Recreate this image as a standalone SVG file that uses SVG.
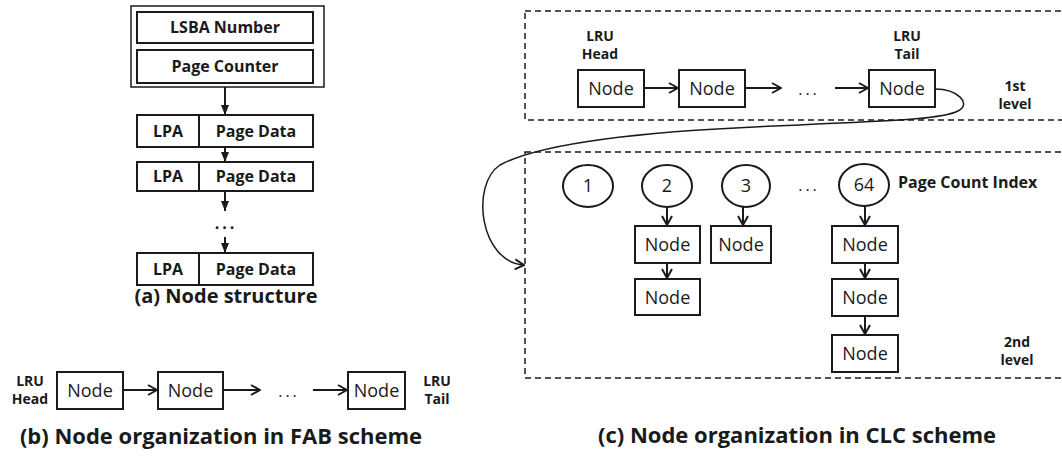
<svg xmlns="http://www.w3.org/2000/svg" width="1062" height="459" viewBox="0 0 1062 459">
<defs>
<style>
.bx{fill:#fff;stroke:#1a1a1a;stroke-width:2}
.ln{fill:none;stroke:#1a1a1a;stroke-width:2}
.dash{fill:none;stroke:#1a1a1a;stroke-width:1.5;stroke-dasharray:6 4}
.t{font-family:"Open Sans","Noto Sans",sans-serif;fill:#1a1a1a;text-anchor:middle}
.nd{font-size:18px}
.b{font-weight:bold}
.s{font-size:14px}
.cap{font-size:22px;font-weight:bold}
.dots{font-size:16px;letter-spacing:3px}
</style>
<marker id="chev" viewBox="0 0 12 12" refX="11" refY="6" markerWidth="12" markerHeight="12" markerUnits="userSpaceOnUse" orient="auto">
<path d="M2 1 L11 6 L2 11" fill="none" stroke="#1a1a1a" stroke-width="2"/>
</marker>
<marker id="tri" viewBox="0 0 10 10" refX="10" refY="5" markerWidth="10" markerHeight="10" markerUnits="userSpaceOnUse" orient="auto">
<path d="M0 1 L10 5 L0 9 Z" fill="#1a1a1a"/>
</marker>
</defs>

<!-- (a) Node structure -->
<g id="node-header">
<rect x="131" y="6" width="193" height="81" fill="#fff" stroke="#1a1a1a" stroke-width="1.5"/>
<rect class="bx" x="137" y="12" width="176" height="31"/>
<text class="t b" x="225" y="33" font-size="16">LSBA Number</text>
<rect class="bx" x="137" y="50" width="176" height="33"/>
<text class="t b" x="225" y="72" font-size="16">Page Counter</text>
</g>
<g id="row1">
<rect class="bx" x="137" y="115" width="176" height="32"/>
<line class="ln" x1="199" y1="115" x2="199" y2="147"/>
<text class="t b" x="168" y="137" font-size="16">LPA</text>
<text class="t b" x="256" y="137" font-size="16">Page Data</text>
</g>
<g id="row2">
<rect class="bx" x="137" y="162" width="176" height="29"/>
<line class="ln" x1="199" y1="162" x2="199" y2="191"/>
<text class="t b" x="168" y="182" font-size="16">LPA</text>
<text class="t b" x="256" y="182" font-size="16">Page Data</text>
</g>
<text class="t b dots" x="226" y="229">...</text>
<g id="row3">
<rect class="bx" x="137" y="253" width="176" height="32"/>
<line class="ln" x1="199" y1="253" x2="199" y2="285"/>
<text class="t b" x="168" y="275" font-size="16">LPA</text>
<text class="t b" x="256" y="275" font-size="16">Page Data</text>
</g>
<text class="t cap" x="226" y="303" style="font-size:20px">(a) Node structure</text>

<!-- (b) FAB -->
<g id="fab-head"><text class="t b s" x="30" y="386">LRU</text><text class="t b s" x="30" y="404">Head</text></g>
<g id="fab-n1"><rect class="bx" x="57" y="372" width="66" height="37"/><text class="t nd" x="90" y="397">Node</text></g>
<g id="fab-n2"><rect class="bx" x="158" y="372" width="65" height="37"/><text class="t nd" x="190.5" y="397">Node</text></g>
<text class="t dots" x="289" y="397">...</text>
<g id="fab-n3"><rect class="bx" x="348" y="372" width="57" height="37"/><text class="t nd" x="376.5" y="397">Node</text></g>
<g id="fab-tail"><text class="t b s" x="437" y="386">LRU</text><text class="t b s" x="437" y="404">Tail</text></g>
<text class="t cap" x="221" y="444">(b) Node organization in FAB scheme</text>

<!-- (c) CLC -->
<rect class="dash" x="525" y="11" width="560" height="109"/>
<rect class="dash" x="525" y="152" width="560" height="226"/>
<g id="l1-head"><text class="t b s" x="600" y="41">LRU</text><text class="t b s" x="600" y="59">Head</text></g>
<g id="l1-n1"><rect class="bx" x="578" y="70" width="66" height="37"/><text class="t nd" x="611" y="95">Node</text></g>
<g id="l1-n2"><rect class="bx" x="679" y="70" width="66" height="37"/><text class="t nd" x="712" y="95">Node</text></g>
<text class="t dots" x="809" y="95">...</text>
<g id="l1-tail"><text class="t b s" x="907" y="41">LRU</text><text class="t b s" x="907" y="59">Tail</text></g>
<g id="l1-n3"><rect class="bx" x="869" y="70" width="66" height="37"/><text class="t nd" x="902" y="95">Node</text></g>
<g id="l1-label"><text class="t b s" x="1015" y="91">1st</text><text class="t b s" x="1015" y="109">level</text></g>

<g id="c1"><ellipse class="bx" cx="588" cy="186" rx="25" ry="21"/><text class="t nd" x="588" y="192">1</text></g>
<g id="c2"><ellipse class="bx" cx="667" cy="186" rx="25" ry="21"/><text class="t nd" x="667" y="192">2</text></g>
<g id="c3"><ellipse class="bx" cx="746" cy="186" rx="24" ry="21"/><text class="t nd" x="746" y="192">3</text></g>
<text class="t dots" x="809" y="191">...</text>
<g id="c64"><ellipse class="bx" cx="864" cy="185" rx="25" ry="21"/><text class="t nd" x="864" y="191">64</text></g>
<text class="t b" x="898" y="188" font-size="16" style="text-anchor:start">Page Count Index</text>

<g id="l2-n2a"><rect class="bx" x="635" y="226" width="65" height="37"/><text class="t nd" x="667.5" y="251">Node</text></g>
<g id="l2-n2b"><rect class="bx" x="635" y="279" width="65" height="36"/><text class="t nd" x="667.5" y="304">Node</text></g>
<g id="l2-n3a"><rect class="bx" x="711" y="226" width="60" height="37"/><text class="t nd" x="741" y="251">Node</text></g>
<g id="l2-n64a"><rect class="bx" x="832" y="226" width="66" height="37"/><text class="t nd" x="865" y="251">Node</text></g>
<g id="l2-n64b"><rect class="bx" x="832" y="279" width="66" height="37"/><text class="t nd" x="865" y="304">Node</text></g>
<g id="l2-n64c"><rect class="bx" x="832" y="335" width="66" height="37"/><text class="t nd" x="865" y="360">Node</text></g>
<g id="l2-label"><text class="t b s" x="1017" y="347">2nd</text><text class="t b s" x="1017" y="365">level</text></g>
<text class="t cap" x="797" y="443">(c) Node organization in CLC scheme</text>

<g id="connectors">
<line class="ln" x1="225" y1="87" x2="225" y2="115" marker-end="url(#tri)"/>
<line class="ln" x1="225" y1="147" x2="225" y2="162" marker-end="url(#tri)"/>
<line class="ln" x1="225" y1="191" x2="225" y2="211" marker-end="url(#tri)"/>
<line class="ln" x1="225" y1="237" x2="225" y2="253" marker-end="url(#tri)"/>

<line class="ln" x1="123" y1="390" x2="157" y2="390" marker-end="url(#chev)"/>
<line class="ln" x1="223" y1="390" x2="260" y2="390" marker-end="url(#chev)"/>
<line class="ln" x1="313" y1="390" x2="347" y2="390" marker-end="url(#chev)"/>

<line class="ln" x1="644" y1="88" x2="678" y2="88" marker-end="url(#chev)"/>
<line class="ln" x1="745" y1="88" x2="781" y2="88" marker-end="url(#chev)"/>
<line class="ln" x1="835" y1="88" x2="868" y2="88" marker-end="url(#chev)"/>
<path d="M935 89 C958 89, 972 104, 958 111 C940 120, 880 121, 800 125 C650 130, 540 143, 500 165 C470 185, 480 262, 524 265" fill="none" stroke="#1a1a1a" stroke-width="1.5" marker-end="url(#chev)"/>

<line class="ln" x1="667" y1="207" x2="667" y2="225" marker-end="url(#chev)"/>
<line class="ln" x1="667" y1="263" x2="667" y2="278" marker-end="url(#chev)"/>
<line class="ln" x1="743" y1="207" x2="743" y2="225" marker-end="url(#chev)"/>
<line class="ln" x1="865" y1="206" x2="865" y2="225" marker-end="url(#chev)"/>
<line class="ln" x1="865" y1="263" x2="865" y2="278" marker-end="url(#chev)"/>
<line class="ln" x1="865" y1="316" x2="865" y2="334" marker-end="url(#chev)"/>
</g>
</svg>
